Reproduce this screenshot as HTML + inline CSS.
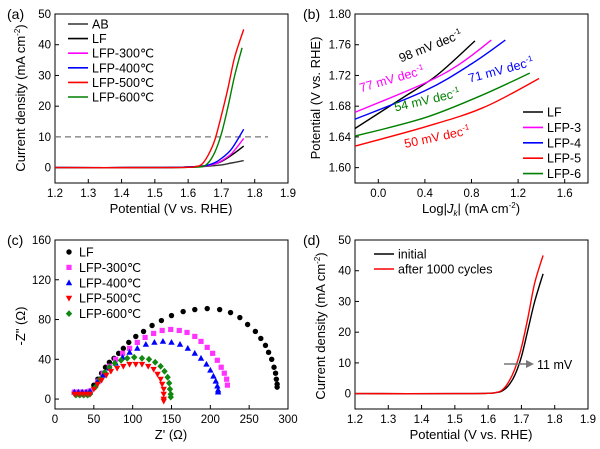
<!DOCTYPE html>
<html><head><meta charset="utf-8"><style>
html,body{margin:0;padding:0;background:#fff;}
svg{display:block;font-family:"Liberation Sans",Arial,sans-serif;}
</style></head><body>
<svg id="fig" width="600" height="449" viewBox="0 0 600 449"></svg>
<script>
// ---------- DATA ----------
const aX_AB=[1.2,1.4,1.55,1.6,1.65,1.7,1.73,1.767];
const aY_AB=[0,0,0.05,0.15,0.4,0.9,1.5,2.3];
const aX_LF=[1.2,1.5,1.6,1.65,1.68,1.7,1.73,1.767];
const aY_LF=[0,0,0.2,0.6,1.2,2,4,7];
const aX_300=[1.2,1.5,1.6,1.65,1.68,1.7,1.73,1.767];
const aY_300=[0,0,0.2,0.5,1.2,2.2,4.5,9.5];
const aX_400=[1.2,1.5,1.6,1.65,1.68,1.7,1.73,1.767];
const aY_400=[0,0,0.2,0.6,1.6,3,6,12.5];
const aX_500=[1.2,1.5,1.6,1.62,1.64,1.66,1.68,1.7,1.72,1.74,1.767];
const aY_500=[0,0,0.1,0.3,1,4,9,17,26,36,45];
const aX_600=[1.2,1.5,1.6,1.64,1.66,1.68,1.7,1.72,1.74,1.762];
const aY_600=[0,0,0.1,0.3,1.5,5,11,20,30,39];

const bX_LF=[-0.2,0.2,0.5,0.83];   const bY_LF=[1.651,1.69,1.72,1.765];
const bX_3=[-0.2,0.4,0.7,0.97];    const bY_3=[1.672,1.71,1.735,1.766];
const bX_4=[-0.2,0.4,0.8,1.09];    const bY_4=[1.663,1.70,1.735,1.766];
const bX_5=[-0.2,0.4,0.9,1.38];    const bY_5=[1.628,1.653,1.678,1.716];
const bX_6=[-0.2,0.4,0.9,1.3];     const bY_6=[1.641,1.665,1.695,1.723];

const cX_LF=[25,30,35,40,45,50,55,60,65,70,76,82,88,95,104,114,125,137,150,165,180,196,212,226,238,248,258,265,271,275,279,282,284,285,286,286];
const cY_LF=[7,7,7,7,8,14,20,26,32,37,41,46,51,57,63,68,74,79,84,88,90,91,90,87,82,75,68,61,54,47,40,32,26,20,15,12];
const cX_300=[25,30,35,40,45,55,62,70,78,87,96,106,116,127,138,149,160,170,180,188,196,203,209,214,218,221,222];
const cY_300=[7,7,7,7,8,18,26,33,40,46,51,57,62,66,69,70,69,67,63,58,52,46,39,32,26,20,14];
const cX_400=[25,30,35,40,45,55,62,70,78,87,96,106,117,128,139,150,161,171,180,188,195,200,204,207,209,210,210];
const cY_400=[7,7,7,7,8,18,24,31,36,42,47,51,55,57,58,57,55,51,46,41,35,29,23,18,13,9,7];
const cX_500=[25,30,35,40,45,50,55,60,66,72,80,88,96,104,112,120,127,132,136,138,140,140,140,140];
const cY_500=[5,5,5,5,5,10,15,19,24,28,31,33,35,35,35,33,30,25,20,15,10,5,0,-2];
const cX_600=[27,32,37,42,45,52,58,64,70,77,85,93,102,112,121,129,136,141,145,147,148,149,149];
const cY_600=[4,4,4,4,5,12,20,27,32,36,39,41,42,41,40,37,33,28,22,16,10,5,2];

const dX_init=[1.2,1.5,1.6,1.62,1.64,1.66,1.68,1.7,1.72,1.74,1.765];
const dY_init=[0,0,0.1,0.3,0.8,2.5,6,12,21,30,39];
const dX_after=[1.2,1.5,1.6,1.62,1.64,1.66,1.68,1.7,1.72,1.74,1.765];
const dY_after=[0,0,0.1,0.3,1,3.5,8,15,25,36,45];

const ticksA_X=[1.2,1.3,1.4,1.5,1.6,1.7,1.8,1.9];
const ticksA_Y=[0,10,20,30,40,50];
const ticksB_X=[0.0,0.4,0.8,1.2,1.6];
const ticksB_Y=[1.60,1.64,1.68,1.72,1.76,1.80];
const ticksC_X=[0,50,100,150,200,250,300];
const ticksC_Y=[0,40,80,120,160];

// ---------- HELPERS ----------
const svg=document.getElementById('fig');
const NS='http://www.w3.org/2000/svg';
function mk(tag,attrs,parent){const e=document.createElementNS(NS,tag);for(const k in attrs)e.setAttribute(k,attrs[k]);(parent||svg).appendChild(e);return e;}
function txt(s,x,y,opt,parent){const t=mk('text',Object.assign({x:x,y:y,'font-size':12,fill:'#000'},opt||{}),parent);t.textContent=s;return t;}
function panel(name,L,R,T,B,x0,x1,y0,y1){
  const g=mk('g',{});
  
  
  const sx=v=>L+(v-x0)/(x1-x0)*(R-L);
  const sy=v=>B-(v-y0)/(y1-y0)*(B-T);
  const box=mk('rect',{x:L,y:T,width:R-L,height:B-T,fill:'none',stroke:'#000','stroke-width':1},g);
  
  
  return {g,sx,sy,L,R,T,B};
}
function axes(p,xt,yt,xfmt,yfmt){
  xt.forEach(v=>{const x=p.sx(v);mk('line',{x1:x,x2:x,y1:p.B,y2:p.B-4,stroke:'#000'},p.g);
    const t=txt(xfmt(v),x,p.B+14,{'text-anchor':'middle','font-size':11.5},p.g);
    });
  yt.forEach(v=>{const y=p.sy(v);mk('line',{x1:p.L,x2:p.L+4,y1:y,y2:y,stroke:'#000'},p.g);
    const t=txt(yfmt(v),p.L-4,y+4,{'text-anchor':'end','font-size':11.5},p.g);
    });
}
function line(p,xs,ys,color,name,w){
  const P=xs.map((x,i)=>[p.sx(x),p.sy(ys[i])]);
  let d='M'+P[0][0].toFixed(1)+','+P[0][1].toFixed(1);
  for(let i=0;i<P.length-1;i++){
    const p0=P[Math.max(0,i-1)],p1=P[i],p2=P[i+1],p3=P[Math.min(P.length-1,i+2)];
    const c1=[p1[0]+(p2[0]-p0[0])/6,p1[1]+(p2[1]-p0[1])/6];
    const c2=[p2[0]-(p3[0]-p1[0])/6,p2[1]-(p3[1]-p1[1])/6];
    d+='C'+c1.map(v=>v.toFixed(1)).join(',')+' '+c2.map(v=>v.toFixed(1)).join(',')+' '+p2.map(v=>v.toFixed(1)).join(',');
  }
  const e=mk('path',{d:d,fill:'none',stroke:color,'stroke-width':w||1.4},p.g);
  
  
}
function marker(g,shape,x,y,c){
  if(shape==='circle')mk('circle',{cx:x,cy:y,r:2.7,fill:c},g);
  else if(shape==='square')mk('rect',{x:x-2.6,y:y-2.6,width:5.2,height:5.2,fill:c},g);
  else if(shape==='tri')mk('polygon',{points:`${x},${y-3.4} ${x-3.2},${y+2.4} ${x+3.2},${y+2.4}`,fill:c},g);
  else if(shape==='tridown')mk('polygon',{points:`${x},${y+3.4} ${x-3.2},${y-2.4} ${x+3.2},${y-2.4}`,fill:c},g);
  else mk('polygon',{points:`${x},${y-3.4} ${x+3.2},${y} ${x},${y+3.4} ${x-3.2},${y}`,fill:c},g);
}
function scatter(p,xs,ys,color,shape,name){
  const g=mk('g',{},p.g);
  
  
  xs.forEach((x,i)=>marker(g,shape,p.sx(x),p.sy(ys[i]),color));
}
function legLine(p,x,y,color,label,name){
  const g=mk('g',{},p.g);
  
  
  mk('line',{x1:x,x2:x+20,y1:y,y2:y,stroke:color,'stroke-width':1.6},g);
  txt(label,x+24,y+4.5,{'font-size':12.5},g);
}
function ytitle(p,x,y,s,name){const t=txt('',x,y,{'text-anchor':'middle','font-size':13,transform:`rotate(-90 ${x} ${y})`},p.g);t.innerHTML=s;}
function xtitle(p,x,y,s,name){const t=txt('',x,y,{'text-anchor':'middle','font-size':13},p.g);t.innerHTML=s;}
const f1=v=>v.toFixed(1), f0=v=>String(v), f2=v=>v.toFixed(2);
const CD='Current density (mA cm<tspan font-size="8" dy="-5">-2</tspan><tspan dy="5">)</tspan>';

// ---------- PANEL A ----------
const A=panel('panel-a',55,288,14,183,1.2,1.9,-5,50);
axes(A,ticksA_X,ticksA_Y,f1,f0);
mk('line',{x1:A.sx(1.2),x2:A.sx(1.84),y1:A.sy(10),y2:A.sy(10),stroke:'#777','stroke-width':1.2,'stroke-dasharray':'6,4'},A.g);
line(A,aX_AB,aY_AB,'#333','line-ab');
line(A,aX_LF,aY_LF,'#000','line-lf');
line(A,aX_300,aY_300,'#ff00ff','line-lfp-300');
line(A,aX_400,aY_400,'#0000ff','line-lfp-400');
line(A,aX_600,aY_600,'#008000','line-lfp-600');
line(A,aX_500,aY_500,'#ff0000','line-lfp-500');
[['#333','AB'],['#000','LF'],['#ff00ff','LFP-300℃'],['#0000ff','LFP-400℃'],['#ff0000','LFP-500℃'],['#008000','LFP-600℃']].forEach((l,i)=>legLine(A,68,24+i*14.6,l[0],l[1],'legend-entry'));
ytitle(A,25,98,CD,'y-axis-title');
xtitle(A,171,213,'Potential (V vs. RHE)','x-axis-title');
txt('(a)',7,19,{'font-size':14},A.g);

// ---------- PANEL B ----------
const Bp=panel('panel-b',355,588,14,183,-0.2,1.8,1.58,1.80);
axes(Bp,ticksB_X,ticksB_Y,f1,f2);
line(Bp,bX_LF,bY_LF,'#000','line-lf');
line(Bp,bX_3,bY_3,'#ff00ff','line-lfp-3');
line(Bp,bX_4,bY_4,'#0000ff','line-lfp-4');
line(Bp,bX_6,bY_6,'#008000','line-lfp-6');
line(Bp,bX_5,bY_5,'#ff0000','line-lfp-5');
[['98 mV dec','#000',432,50,-22],['77 mV dec','#ff00ff',393,83,-16],['71 mV dec','#0000ff',502,74,-15],['54 mV dec','#008000',428,104,-13],['50 mV dec','#ff0000',438,141,-12]].forEach(a=>{
  const t=txt('',a[2],a[3],{'text-anchor':'middle','font-size':12.5,fill:a[1],transform:`rotate(${a[4]} ${a[2]} ${a[3]})`},Bp.g);
  t.innerHTML=a[0]+'<tspan font-size="8" dy="-5">-1</tspan>';
  
});
[['#000','LF'],['#ff00ff','LFP-3'],['#0000ff','LFP-4'],['#ff0000','LFP-5'],['#008000','LFP-6']].forEach((l,i)=>legLine(Bp,523,112+i*15.4,l[0],l[1],'legend-entry'));
ytitle(Bp,320,98,'Potential (V vs. RHE)','y-axis-title');
xtitle(Bp,471,213,'Log|<tspan font-style="italic">J</tspan><tspan font-size="8" dy="3" font-style="italic">k</tspan><tspan dy="-3">| (mA cm</tspan><tspan font-size="8" dy="-5">-2</tspan><tspan dy="5">)</tspan>','x-axis-title');
txt('(b)',303,19,{'font-size':14},Bp.g);

// ---------- PANEL C ----------
const C=panel('panel-c',55,288,240,409,0,300,-10,160);
axes(C,ticksC_X,ticksC_Y,f0,f0);
scatter(C,cX_LF,cY_LF,'#000','circle','series-lf');
scatter(C,cX_300,cY_300,'#ff33ff','square','series-lfp-300');
scatter(C,cX_400,cY_400,'#0000ff','tri','series-lfp-400');
scatter(C,cX_600,cY_600,'#118811','diamond','series-lfp-600');
scatter(C,cX_500,cY_500,'#ff0000','tridown','series-lfp-500');
[['#000','circle','LF'],['#ff33ff','square','LFP-300℃'],['#0000ff','tri','LFP-400℃'],['#ff0000','tridown','LFP-500℃'],['#118811','diamond','LFP-600℃']].forEach((l,i)=>{
  const g=mk('g',{},C.g);
  
  
  const y=252+i*15.4;marker(g,l[1],69,y,l[0]);txt(l[2],79,y+4.5,{'font-size':12.5},g);
});
ytitle(C,25,326,'-Z" (Ω)','y-axis-title');
xtitle(C,171,439,"Z' (Ω)",'x-axis-title');
txt('(c)',7,245,{'font-size':14},C.g);

// ---------- PANEL D ----------
const D=panel('panel-d',355,588,240,409,1.2,1.9,-5,50);
axes(D,ticksA_X,ticksA_Y,f1,f0);
line(D,dX_init,dY_init,'#000','line-initial');
line(D,dX_after,dY_after,'#ff0000','line-after-1000-cycles');
const ar=mk('g',{},D.g);
mk('line',{x1:504,x2:528,y1:364,y2:364,stroke:'#777','stroke-width':1.5},ar);
mk('polygon',{points:'534,364 526,360 526,368',fill:'#777'},ar);
txt('11 mV',537,369,{'font-size':12.5},D.g);
legLine(D,374,254,'#000','initial','legend-entry');
legLine(D,374,269,'#ff0000','after 1000 cycles','legend-entry');
ytitle(D,325,326,CD,'y-axis-title');
xtitle(D,471,439,'Potential (V vs. RHE)','x-axis-title');
txt('(d)',303,245,{'font-size':14},D.g);
</script>
</body></html>
